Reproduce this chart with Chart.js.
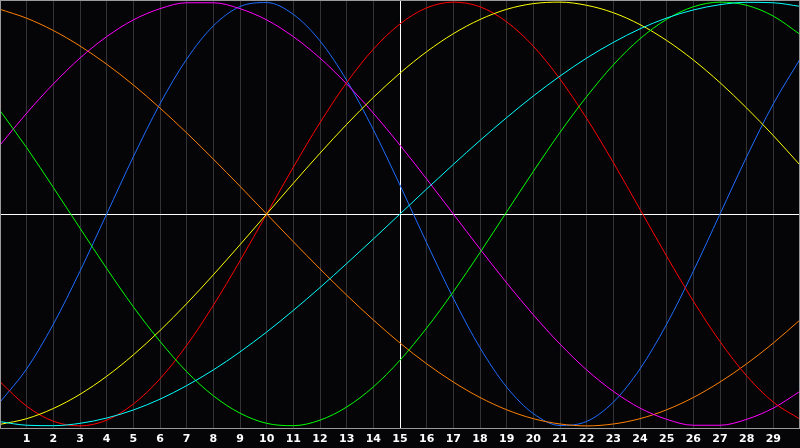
<!DOCTYPE html>
<html>
<head>
<meta charset="utf-8">
<script src="https://cdn.jsdelivr.net/npm/chart.js@4/dist/chart.umd.min.js"></script>
<style>
html,body{margin:0;padding:0;background:#050508;}
canvas{display:block;}
</style>
</head>
<body>
<canvas id="c" width="800" height="448"></canvas>
<script>
const categories = [0,1,2,3,4,5,6,7,8,9,10,11,12,13,14,15,16,17,18,19,20,21,22,23,24,25,26,27,28,29,30];
const tickLabels = ['', '1','2','3','4','5','6','7','8','9','10','11','12','13','14','15','16','17','18','19','20','21','22','23','24','25','26','27','28','29',''];

const orange  = [0.966,0.924,0.866,0.793,0.707,0.609,0.500,0.383,0.259,0.131,0.000,-0.131,-0.259,-0.383,-0.500,-0.609,-0.707,-0.793,-0.866,-0.924,-0.966,-0.991,-1.000,-0.991,-0.966,-0.924,-0.866,-0.793,-0.707,-0.609,-0.500];
const magenta = [0.325,0.476,0.614,0.736,0.837,0.916,0.969,0.997,0.997,0.969,0.916,0.837,0.736,0.614,0.476,0.325,0.165,0.000,-0.165,-0.325,-0.476,-0.614,-0.736,-0.837,-0.916,-0.969,-0.997,-0.997,-0.969,-0.916,-0.837];
const blue    = [-0.888,-0.731,-0.520,-0.270,0.000,0.270,0.520,0.731,0.888,0.979,0.998,0.942,0.817,0.631,0.398,0.136,-0.136,-0.398,-0.631,-0.817,-0.942,-0.998,-0.979,-0.888,-0.731,-0.520,-0.270,0.000,0.270,0.520,0.731];
const red     = [-0.792,-0.907,-0.978,-1.000,-0.973,-0.897,-0.778,-0.620,-0.431,-0.221,0.000,0.221,0.431,0.620,0.778,0.897,0.973,1.000,0.978,0.907,0.792,0.637,0.451,0.243,0.022,-0.199,-0.411,-0.602,-0.764,-0.888,-0.968];
const yellow  = [-0.993,-0.966,-0.918,-0.851,-0.766,-0.665,-0.550,-0.423,-0.287,-0.145,0.000,0.145,0.287,0.423,0.550,0.665,0.766,0.851,0.918,0.966,0.993,1.000,0.985,0.950,0.894,0.819,0.727,0.620,0.500,0.370,0.231];
const cyan    = [-0.980,-0.997,-0.999,-0.988,-0.963,-0.925,-0.874,-0.810,-0.736,-0.651,-0.557,-0.455,-0.347,-0.234,-0.118,0.000,0.118,0.234,0.347,0.455,0.557,0.651,0.736,0.810,0.874,0.925,0.963,0.988,0.999,0.997,0.980];
const green   = [0.488,0.313,0.125,-0.067,-0.257,-0.438,-0.601,-0.744,-0.858,-0.940,-0.988,-0.999,-0.973,-0.911,-0.816,-0.690,-0.538,-0.367,-0.182,0.010,0.201,0.385,0.554,0.704,0.827,0.919,0.978,1.000,0.985,0.934,0.848];

const seriesList = [
  {data: cyan,    color: '#00ffff'},
  {data: green,   color: '#00ff00'},
  {data: yellow,  color: '#ffff00'},
  {data: red,     color: '#ff0000'},
  {data: magenta, color: '#ff00ff'},
  {data: orange,  color: '#ff8000'},
  {data: blue,    color: '#1e6cff'}
];

const bgPlugin = {
  id: 'bg',
  beforeDraw(chart) {
    const ctx = chart.ctx;
    ctx.save();
    ctx.fillStyle = '#050508';
    ctx.fillRect(0, 0, chart.width, chart.height);
    ctx.restore();
  },
  afterDraw(chart) {
    const a = chart.chartArea;
    const ctx = chart.ctx;
    ctx.save();
    ctx.strokeStyle = '#9a9a9a';
    ctx.lineWidth = 1;
    ctx.strokeRect(Math.round(a.left) + 0.5, Math.round(a.top) + 0.5, Math.round(a.right - a.left) - 1, Math.round(a.bottom - a.top));
    ctx.restore();
  }
};

new Chart(document.getElementById('c'), {
  type: 'line',
  data: {
    labels: categories,
    datasets: seriesList.map(s => ({
      data: s.data,
      borderColor: s.color,
      borderWidth: 1,
      pointRadius: 0,
      cubicInterpolationMode: 'monotone',
      fill: false
    }))
  },
  options: {
    responsive: false,
    devicePixelRatio: 1,
    animation: false,
    layout: {padding: 0},
    plugins: {legend: {display: false}, tooltip: {enabled: false}},
    scales: {
      x: {
        type: 'category',
        offset: false,
        border: {display: false},
        grid: {
          drawTicks: false,
          lineWidth: 1,
          color: (c) => {
            const i = c.index;
            if (i === 15) return '#ffffff';
            if (i === 0 || i === 30) return 'rgba(0,0,0,0)';
            return '#333336';
          }
        },
        ticks: {
          autoSkip: false,
          maxRotation: 0,
          minRotation: 0,
          padding: 5,
          color: '#ffffff',
          font: {family: 'DejaVu Sans', size: 11, weight: 'bold'},
          callback: (v, i) => tickLabels[i]
        },
        afterFit: (s) => { s.height = 20; s.paddingLeft = 0; s.paddingRight = 0; }
      },
      y: {
        min: -1.01,
        max: 1.01,
        border: {display: false},
        afterBuildTicks: (s) => { s.ticks = [{value: 0}]; },
        grid: {drawTicks: false, color: '#ffffff', lineWidth: 1},
        ticks: {display: false},
        afterFit: (s) => { s.width = 0; s.paddingTop = 0; s.paddingBottom = 0; }
      }
    }
  },
  plugins: [bgPlugin]
});
</script>
</body>
</html>
